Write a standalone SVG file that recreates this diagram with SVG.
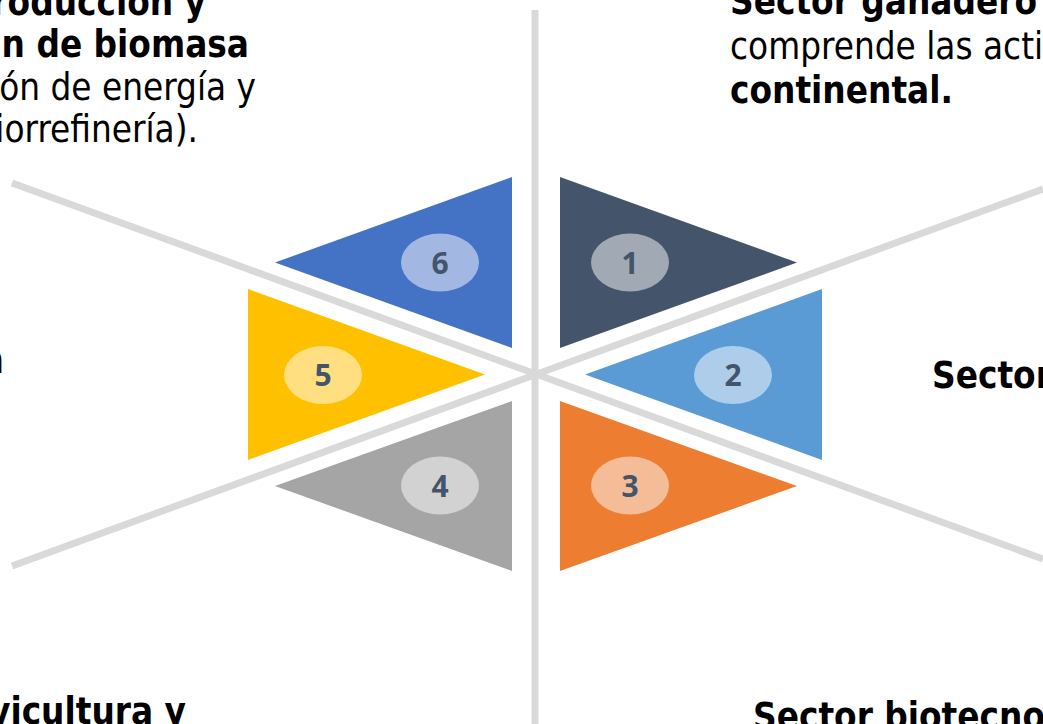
<svg xmlns="http://www.w3.org/2000/svg" width="1043" height="724" viewBox="0 0 1043 724">
<style>
.ln{stroke:#D9D9D9;stroke-width:7;fill:none}
.num{font-family:"Open Sans","Noto Sans",sans-serif;font-weight:bold;font-size:30px;fill:#44546A;text-anchor:middle}
.t{font-family:"DejaVu Sans Condensed","DejaVu Sans",sans-serif;font-size:36.5px;fill:#000}
.b{font-weight:bold}
.e{text-anchor:end}
</style>
<rect width="1043" height="724" fill="#fff"/>
<g id="connectors">
<line class="ln" x1="535" y1="10" x2="535" y2="724"/>
<line class="ln" x1="12" y1="183" x2="1043" y2="559"/>
<line class="ln" x1="12" y1="566" x2="1043" y2="189"/>
</g>
<g id="node1">
<polygon points="560,177 797,262.5 560,348" fill="#44546A"/>
<ellipse cx="630" cy="262.5" rx="39" ry="29" fill="#A1A9B4"/>
<text class="num" x="630" y="273.5">1</text>
</g>
<g id="node2">
<polygon points="822,289 585,374.5 822,460" fill="#5B9BD5"/>
<ellipse cx="733" cy="375" rx="39" ry="29" fill="#ADCDEA"/>
<text class="num" x="733" y="386">2</text>
</g>
<g id="node3">
<polygon points="560,401 797,486 560,571" fill="#ED7D31"/>
<ellipse cx="630" cy="485.5" rx="39" ry="29" fill="#F5BD97"/>
<text class="num" x="630" y="496.5">3</text>
</g>
<g id="node4">
<polygon points="512,401 275,486 512,571" fill="#A5A5A5"/>
<ellipse cx="440" cy="485.5" rx="39" ry="29" fill="#D2D2D2"/>
<text class="num" x="440" y="496.5">4</text>
</g>
<g id="node5">
<polygon points="248,289 485,374.5 248,460" fill="#FFC000"/>
<ellipse cx="323" cy="375" rx="39" ry="29" fill="#FFDF80"/>
<text class="num" x="323" y="386">5</text>
</g>
<g id="node6">
<polygon points="512,177 275,262.5 512,348" fill="#4472C4"/>
<ellipse cx="440" cy="262.5" rx="39" ry="29" fill="#A2B7E1"/>
<text class="num" x="440" y="273.5">6</text>
</g>
<g id="text-top-left">
<text class="t b e" x="206" y="15">roducción y</text>
<text class="t b e" x="249" y="57">n de biomasa</text>
<text class="t e" x="256" y="100">ón de energía y</text>
<text class="t e" x="198" y="142">iorrefinería).</text>
</g>
<g id="text-top-right">
<text class="t b" x="730" y="14">Sector ganadero</text>
<text class="t" x="730" y="59">comprende las actividades</text>
<text class="t b" x="730" y="103">continental.</text>
</g>
<g id="text-left">
<text class="t e" x="4" y="373">n</text>
</g>
<g id="text-right">
<text class="t b" x="932" y="388">Sector</text>
</g>
<g id="text-bottom-left">
<text class="t b e" x="186" y="724">vicultura y</text>
</g>
<g id="text-bottom-right">
<text class="t b" x="753" y="729">Sector biotecnológico</text>
</g>
</svg>
